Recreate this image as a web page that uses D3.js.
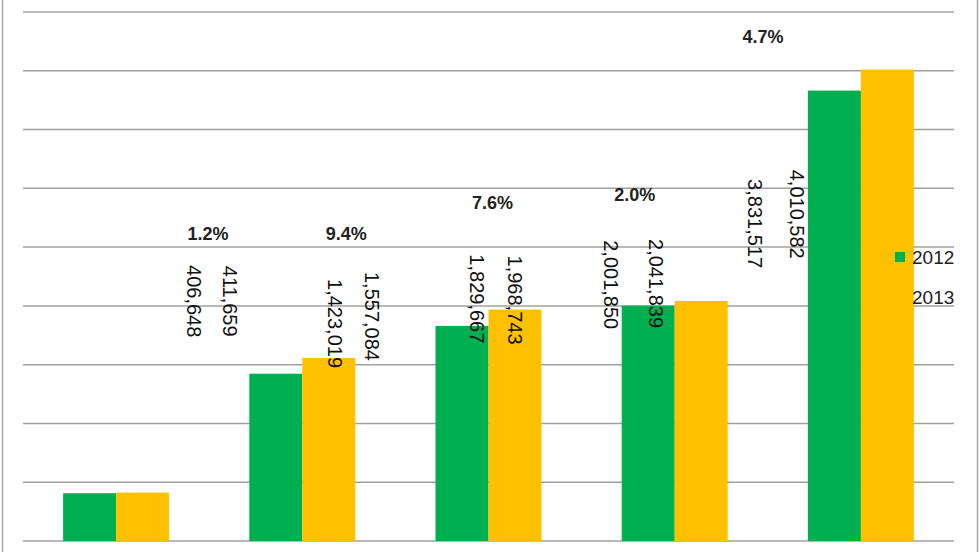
<!DOCTYPE html>
<html>
<head>
<meta charset="utf-8">
<script src="https://cdn.jsdelivr.net/npm/d3@7/dist/d3.min.js"></script>
<style>
  html, body { margin: 0; padding: 0; background: #fff; }
  svg { display: block; }
</style>
</head>
<body>
<svg id="chart" width="980" height="552"></svg>
<script>
// ---- data ----
const categories = ["A", "B", "C", "D", "E"];
const seriesNames = ["2012", "2013"];
const values2012 = [406648, 1423019, 1829667, 2001850, 3831517];
const values2013 = [411659, 1557084, 1968743, 2041839, 4010582];
const growthLabels = ["1.2%", "9.4%", "7.6%", "2.0%", "4.7%"];
const yTicks = [0, 500000, 1000000, 1500000, 2000000, 2500000, 3000000, 3500000, 4000000, 4500000];

// ---- layout (label placement as in the original, in px offset from category centre / data units) ----
const layout2012 = [{dx: 78, v: 2040000}, {dx: 33, v: 1850000}, {dx: -12, v: 2060000}, {dx: -64, v: 2180000}, {dx: -106, v: 2700000}];
const layout2013 = [{dx: 114, v: 2040000}, {dx: 70, v: 1910000}, {dx: 26, v: 2050000}, {dx: -19, v: 2190000}, {dx: -64, v: 2780000}];
const layoutPct  = [{dx: 92, v: 2610000}, {dx: 44, v: 2610000}, {dx: 4, v: 2875000}, {dx: -40, v: 2940000}, {dx: -98, v: 4290000}];

const colors = {"2012": "#00B050", "2013": "#FFC000"};
const fmt = d3.format(",");

const svg = d3.select("#chart");
const W = 980, H = 552;
const plot = {left: 23, right: 954, top: 12, bottom: 541};

// frame
svg.append("rect")
  .attr("x", 2.5).attr("y", -12).attr("width", 975).attr("height", 576)
  .attr("rx", 8).attr("fill", "none").attr("stroke", "#a6a6a6").attr("stroke-width", 1.5);

const x = d3.scaleBand().domain(categories).range([plot.left, plot.right]).padding(0);
const xSub = d3.scaleBand().domain(seriesNames).range([0, x.bandwidth()]).paddingInner(0).paddingOuter(0.757);
const y = d3.scaleLinear().domain([0, 4500000]).range([plot.bottom, plot.top]);

// gridlines
svg.append("g").selectAll("line").data(yTicks).join("line")
  .attr("x1", plot.left).attr("x2", plot.right)
  .attr("y1", d => y(d)).attr("y2", d => y(d))
  .attr("stroke", "#a0a0a0").attr("stroke-width", 1.5);

// bars
const rows = categories.map((c, i) => ({cat: c, i, vals: [values2012[i], values2013[i]]}));
const groups = svg.append("g").selectAll("g").data(rows).join("g")
  .attr("transform", d => `translate(${x(d.cat)},0)`);
groups.selectAll("rect").data(d => seriesNames.map((s, k) => ({s, v: d.vals[k]}))).join("rect")
  .attr("x", d => xSub(d.s))
  .attr("width", xSub.bandwidth())
  .attr("y", d => y(d.v))
  .attr("height", d => y(0) - y(d.v))
  .attr("fill", d => colors[d.s]);

const ctr = c => x(c) + x.bandwidth() / 2;
const font = "'Liberation Sans', Arial, sans-serif";

// value labels (rotated)
function valueLabels(vals, lay) {
  svg.append("g").selectAll("text").data(categories).join("text")
    .attr("transform", (c, i) => `translate(${ctr(c) + lay[i].dx},${y(lay[i].v)}) rotate(90)`)
    .attr("text-anchor", "middle")
    .attr("dominant-baseline", "central")
    .attr("font-family", font)
    .attr("font-size", 20)
    .attr("fill", "#111")
    .text((c, i) => fmt(vals[i]));
}
valueLabels(values2012, layout2012);
valueLabels(values2013, layout2013);

// growth labels
svg.append("g").selectAll("text").data(categories).join("text")
  .attr("x", (c, i) => ctr(c) + layoutPct[i].dx)
  .attr("y", (c, i) => y(layoutPct[i].v))
  .attr("text-anchor", "middle")
  .attr("dominant-baseline", "central")
  .attr("font-family", font)
  .attr("font-size", 18)
  .attr("font-weight", "bold")
  .attr("fill", "#222")
  .text((c, i) => growthLabels[i]);

// legend
const legend = svg.append("g").attr("transform", "translate(895,252)");
const li = legend.selectAll("g").data(seriesNames).join("g")
  .attr("transform", (d, i) => `translate(0,${i * 40})`);
li.append("rect").attr("width", 10).attr("height", 10).attr("fill", d => colors[d]);
li.append("text").attr("x", 17).attr("y", 5)
  .attr("dominant-baseline", "central")
  .attr("font-family", font).attr("font-size", 19).attr("fill", "#222")
  .text(d => d);
</script>
</body>
</html>
